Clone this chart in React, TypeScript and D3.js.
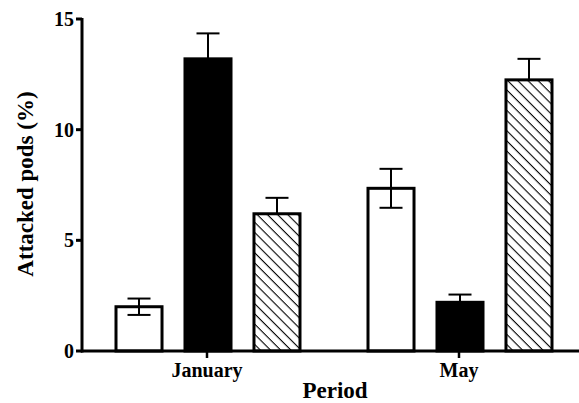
import React, { useRef, useEffect } from 'react';
import * as d3 from 'd3';

const periods = ["January", "May"];
const seriesKeys = ["open", "solid", "hatched"];
const januaryMeans = [2.0, 13.2, 6.2];
const januaryErrors = [0.37, 1.15, 0.72];
const mayMeans = [7.35, 2.2, 12.25];
const mayErrors = [0.88, 0.35, 0.95];
const yTicks = [0, 5, 10, 15];

export default function App() {
  const ref = useRef<SVGSVGElement>(null);

  useEffect(() => {
    const svg = d3.select(ref.current);
    svg.selectAll("*").remove();

    const width = 579;
    const height = 403;
    const font = "'Liberation Serif', 'Times New Roman', serif";

    const rows = [
      { period: "January", means: januaryMeans, errors: januaryErrors },
      { period: "May", means: mayMeans, errors: mayErrors },
    ];

    const x = d3.scaleBand().domain(periods).range([82, 586]).padding(0);
    const sub = d3.scaleBand().domain(seriesKeys).range([0, 207]).paddingInner(0.333).paddingOuter(0.1667);
    const y = d3.scaleLinear().domain([0, 15]).range([351, 19]);

    svg.attr("width", width).attr("height", height).style("background", "white");

    // hatch pattern for third series
    const defs = svg.append("defs");
    const pat = defs.append("pattern")
      .attr("id", "hatch")
      .attr("patternUnits", "userSpaceOnUse")
      .attr("width", 7.2)
      .attr("height", 7.2)
      .attr("patternTransform", "rotate(45)");
    pat.append("rect").attr("width", 7.2).attr("height", 7.2).attr("fill", "white");
    pat.append("line")
      .attr("x1", 0).attr("y1", 0).attr("x2", 7.2).attr("y2", 0)
      .attr("stroke", "black").attr("stroke-width", 2.2);

    const fills = ["white", "black", "url(#hatch)"];

    rows.forEach(row => {
      const gx = x(row.period)! + x.bandwidth() / 2 - 103.5;
      const g = svg.append("g").attr("transform", `translate(${gx},0)`);

      seriesKeys.forEach((k, i) => {
        const cx = sub(k)! + sub.bandwidth() / 2;
        const m = row.means[i];
        const e = row.errors[i];

        // error bar (lower half is hidden by filled bars)
        g.append("line")
          .attr("x1", cx).attr("x2", cx)
          .attr("y1", y(m - e)).attr("y2", y(m + e))
          .attr("stroke", "black").attr("stroke-width", 2);
        [m - e, m + e].forEach(v => {
          g.append("line")
            .attr("x1", cx - 11.5).attr("x2", cx + 11.5)
            .attr("y1", y(v)).attr("y2", y(v))
            .attr("stroke", "black").attr("stroke-width", 2);
        });

        g.append("rect")
          .attr("x", sub(k)!)
          .attr("y", y(m))
          .attr("width", sub.bandwidth())
          .attr("height", y(0) - y(m))
          .attr("fill", i === 0 ? "none" : fills[i])
          .attr("stroke", "black")
          .attr("stroke-width", 3);
      });
    });

    // y axis
    const yAxis = svg.append("g");
    yAxis.append("line")
      .attr("x1", 82).attr("x2", 82).attr("y1", y(15) - 1).attr("y2", y(0) + 1.5)
      .attr("stroke", "black").attr("stroke-width", 3);
    yTicks.forEach(t => {
      yAxis.append("line")
        .attr("x1", 76).attr("x2", 82).attr("y1", y(t)).attr("y2", y(t))
        .attr("stroke", "black").attr("stroke-width", 3);
      yAxis.append("text")
        .attr("x", 74).attr("y", y(t)).attr("dy", "0.35em")
        .attr("text-anchor", "end")
        .style("font-family", font).style("font-weight", "bold").style("font-size", "20px")
        .text(t);
    });

    // x axis
    const xAxis = svg.append("g");
    xAxis.append("line")
      .attr("x1", 81).attr("x2", 579).attr("y1", y(0)).attr("y2", y(0))
      .attr("stroke", "black").attr("stroke-width", 3);
    periods.forEach(p => {
      const cx = x(p)! + x.bandwidth() / 2 - 1;
      xAxis.append("line")
        .attr("x1", cx).attr("x2", cx).attr("y1", y(0)).attr("y2", y(0) + 7)
        .attr("stroke", "black").attr("stroke-width", 2.5);
      xAxis.append("text")
        .attr("x", cx).attr("y", 377)
        .attr("text-anchor", "middle")
        .style("font-family", font).style("font-weight", "bold").style("font-size", "20px")
        .text(p);
    });

    svg.append("text")
      .attr("x", 335).attr("y", 398)
      .attr("text-anchor", "middle")
      .style("font-family", font).style("font-weight", "bold").style("font-size", "23px")
      .text("Period");

    svg.append("text")
      .attr("transform", `translate(33,${184}) rotate(-90)`)
      .attr("text-anchor", "middle")
      .style("font-family", font).style("font-weight", "bold").style("font-size", "23px")
      .text("Attacked pods (%)");
  }, []);

  return <svg ref={ref} style={{ position: "absolute", left: 0, top: 0 }}></svg>;
}
